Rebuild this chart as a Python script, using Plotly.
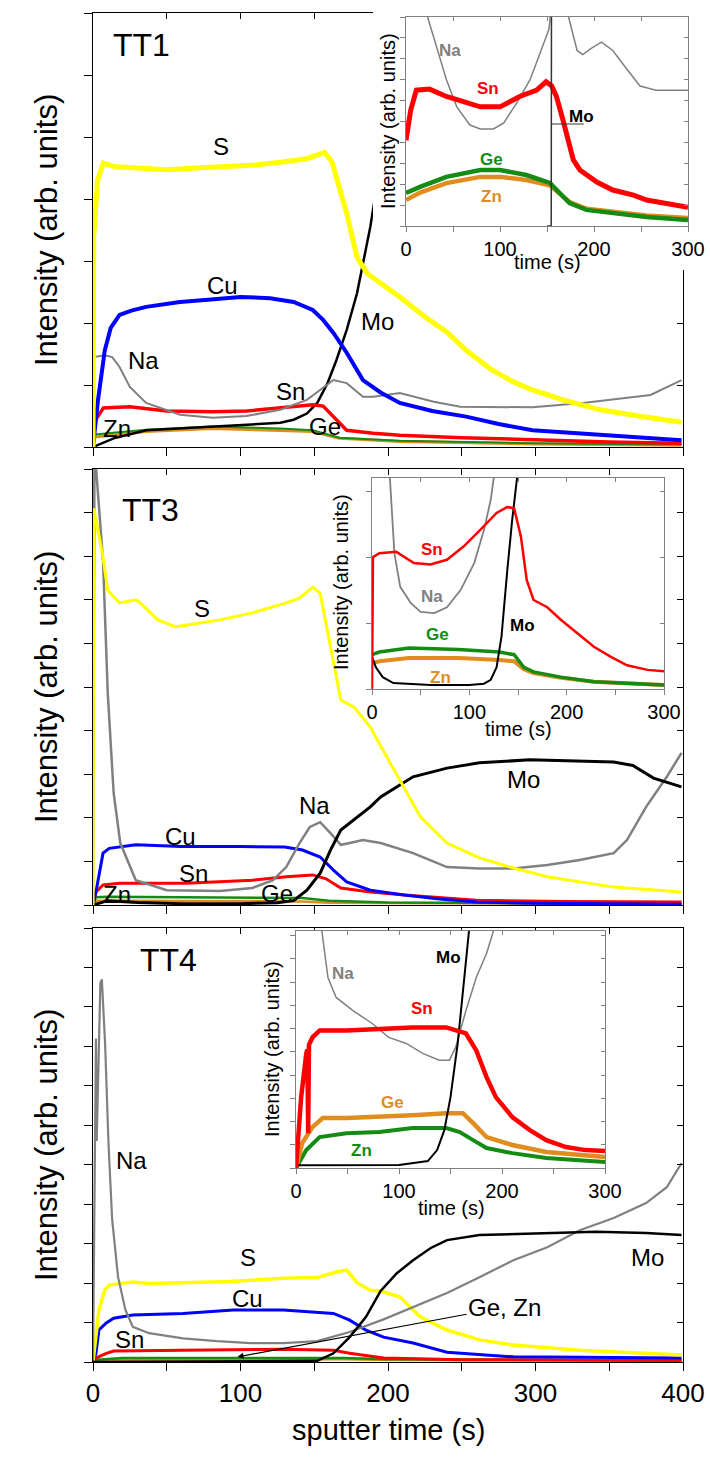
import plotly.graph_objects as go

# ---------------- DATA ----------------
# TT1 main panel (time s, intensity arb.)
t1_S_t = [0, 0.5, 3, 7, 15, 30, 50, 70, 90, 110, 130, 145, 157, 162, 172, 179, 186, 195, 208, 225, 240, 253, 270, 285, 298, 320, 344, 370, 399]
t1_S = [0, 3.4, 4.3, 4.58, 4.52, 4.5, 4.47, 4.5, 4.52, 4.55, 4.6, 4.65, 4.75, 4.6, 3.77, 3.06, 2.8, 2.65, 2.42, 2.1, 1.85, 1.56, 1.25, 1.05, 0.92, 0.75, 0.60, 0.5, 0.40]
t1_Cu_t = [0, 3.4, 8, 12, 18, 26, 36, 59, 80, 100, 120, 136, 149, 156, 163, 172, 183, 195, 208, 230, 253, 275, 298, 344, 399]
t1_Cu = [0, 0.76, 1.56, 1.92, 2.13, 2.2, 2.26, 2.34, 2.38, 2.42, 2.4, 2.34, 2.21, 2.05, 1.84, 1.52, 1.08, 0.88, 0.71, 0.58, 0.49, 0.37, 0.27, 0.19, 0.11]
t1_Na_t = [0, 0.5, 8, 13, 18, 25, 36, 59, 81, 104, 127, 145, 163, 172, 183, 190, 208, 231, 249, 298, 332, 378, 399]
t1_Na = [0, 1.45, 1.48, 1.45, 1.29, 0.97, 0.71, 0.52, 0.47, 0.5, 0.6, 0.76, 1.08, 1.03, 0.81, 0.81, 0.87, 0.73, 0.65, 0.64, 0.71, 0.84, 1.08]
t1_Sn_t = [0, 0.5, 7, 25, 50, 81, 104, 127, 149, 156, 165, 172, 190, 208, 250, 298, 350, 399]
t1_Sn = [0, 0.39, 0.63, 0.65, 0.58, 0.57, 0.58, 0.63, 0.68, 0.66, 0.44, 0.27, 0.22, 0.19, 0.15, 0.11, 0.08, 0.06]
t1_GeZn_t = [0, 1, 10, 36, 81, 127, 149, 167, 208, 300, 399]
t1_Zn = [0, 0.16, 0.18, 0.25, 0.3, 0.27, 0.25, 0.14, 0.09, 0.05, 0.03]
t1_Ge = [0, 0.2, 0.22, 0.28, 0.33, 0.3, 0.27, 0.15, 0.1, 0.06, 0.04]
t1_Mo_t = [0, 14, 36, 81, 127, 136, 145, 152, 159, 165, 172, 179, 183, 188, 195, 205, 215]
t1_Mo = [0, 0.14, 0.27, 0.33, 0.39, 0.44, 0.54, 0.71, 1.03, 1.4, 1.89, 2.48, 2.96, 3.55, 4.6, 6.2, 8.0]

# TT1 inset
i1_Na_t = [0, 15, 23, 32, 43, 54, 68, 79, 93, 104, 118, 132, 143, 152, 156, 164, 173, 182, 188, 197, 208, 220, 235, 249, 266, 300]
i1_Na = [30, 14, 10, 8.6, 7.0, 5.7, 4.83, 4.64, 4.64, 4.93, 5.9, 7.0, 8.3, 9.4, 11, 13, 10, 8.4, 8.2, 8.5, 8.8, 8.4, 7.5, 6.7, 6.5, 6.5]
i1_Sn_t = [0, 5, 11, 25, 43, 79, 100, 121, 139, 149, 155, 160, 167, 173, 178, 185, 203, 220, 242, 256, 277, 300]
i1_Sn = [4.1, 5.55, 6.5, 6.55, 6.2, 5.7, 5.7, 6.2, 6.5, 6.9, 6.7, 6.2, 5.07, 3.97, 3.16, 2.68, 2.1, 1.72, 1.48, 1.24, 1.05, 0.9]
i1_GeZn_t = [0, 15, 43, 79, 100, 128, 153, 164, 174, 192, 220, 256, 300]
i1_Ge = [1.58, 1.87, 2.35, 2.68, 2.68, 2.44, 2.06, 1.58, 1.1, 0.77, 0.62, 0.43, 0.29]
i1_Zn = [1.24, 1.6, 2.05, 2.35, 2.35, 2.2, 1.95, 1.55, 1.15, 0.82, 0.68, 0.5, 0.38]
i1_Mo_t = [150, 154.5, 155.5]
i1_Mo = [0, 0, 40]

# TT3 main panel
t3_S_t = [0, 0.5, 6.8, 10, 18, 29, 33, 44, 56, 86, 108, 131, 140, 149, 154, 161, 168, 177, 188, 195, 200, 208, 222, 240, 262, 285, 308, 353, 399]
t3_S = [0, 9.1, 7.98, 7.22, 6.93, 7.0, 6.9, 6.54, 6.38, 6.54, 6.7, 6.93, 7.04, 7.29, 7.15, 5.92, 4.7, 4.54, 4.08, 3.65, 3.35, 2.85, 2.02, 1.42, 1.08, 0.85, 0.65, 0.41, 0.3]
t3_Cu_t = [0, 2, 6.8, 11, 29, 60, 100, 130, 142, 154, 163, 172, 188, 211, 235, 260, 300, 399]
t3_Cu = [0, 0.3, 1.19, 1.3, 1.38, 1.34, 1.34, 1.33, 1.26, 1.1, 0.8, 0.53, 0.34, 0.23, 0.14, 0.07, 0.04, 0.02]
t3_Sn_t = [0, 2, 6.8, 18, 63, 108, 131, 149, 158, 168, 188, 211, 260, 320, 399]
t3_Sn = [0, 0.3, 0.46, 0.5, 0.5, 0.57, 0.65, 0.69, 0.6, 0.39, 0.3, 0.23, 0.11, 0.08, 0.07]
t3_Na_t = [0, 1, 3, 6.8, 10, 14, 18.5, 29, 50, 86, 108, 122, 131, 140, 147, 154, 161, 168, 174, 183, 195, 217, 240, 262, 285, 308, 330, 353, 362, 375, 389, 399]
t3_Na = [0, 10.5, 9.6, 7.9, 4.86, 2.57, 1.42, 0.57, 0.34, 0.32, 0.39, 0.57, 0.87, 1.42, 1.79, 1.9, 1.65, 1.38, 1.42, 1.49, 1.42, 1.19, 0.87, 0.84, 0.84, 0.92, 1.03, 1.19, 1.49, 2.25, 2.94, 3.49]
t3_Mo_t = [0, 10, 30, 60, 100, 125, 136, 145, 154, 161, 168, 174, 188, 195, 217, 240, 262, 296, 330, 353, 366, 380, 399]
t3_Mo = [0, 0.1, 0.06, 0.03, 0.03, 0.05, 0.1, 0.34, 0.73, 1.26, 1.72, 1.88, 2.25, 2.48, 2.94, 3.14, 3.26, 3.33, 3.3, 3.28, 3.2, 2.91, 2.71]
t3_GeZn_t = [0, 2, 10, 60, 120, 142, 160, 200, 300, 399]
t3_Ge = [0, 0.18, 0.19, 0.18, 0.18, 0.16, 0.1, 0.06, 0.04, 0.03]
t3_Zn = [0, 0.1, 0.1, 0.09, 0.09, 0.08, 0.05, 0.04, 0.03, 0.02]

# TT3 inset
i3_Sn_t = [0, 1, 7.5, 25, 43, 60, 77, 94, 111, 128, 139, 146, 153, 159, 166, 180, 194, 211, 228, 245, 262, 283, 300]
i3_Sn = [0, 2.0, 2.06, 2.08, 1.91, 1.89, 1.96, 2.16, 2.41, 2.67, 2.76, 2.74, 2.31, 1.65, 1.35, 1.24, 1.05, 0.85, 0.64, 0.49, 0.36, 0.29, 0.27]
i3_Na_t = [0, 15, 18, 23, 29, 40, 50, 64, 77, 91, 105, 115, 122, 126, 132]
i3_Na = [30, 6, 3.3, 2.06, 1.55, 1.3, 1.17, 1.15, 1.24, 1.5, 1.91, 2.41, 2.87, 3.3, 6]
i3_Mo_t = [0, 4, 11, 22, 60, 100, 115, 122, 128, 133, 139, 144, 149, 153]
i3_Mo = [0.49, 0.33, 0.18, 0.09, 0.06, 0.06, 0.08, 0.14, 0.33, 0.79, 1.8, 2.56, 3.2, 5]
i3_GeZn_t = [0, 7.5, 38, 89, 131, 146, 156, 166, 194, 228, 300]
i3_Ge = [0.52, 0.56, 0.62, 0.6, 0.56, 0.52, 0.33, 0.26, 0.18, 0.11, 0.06]
i3_Zn = [0.39, 0.42, 0.47, 0.47, 0.44, 0.42, 0.3, 0.24, 0.17, 0.11, 0.06]

# TT4 main panel
t4_Na_t = [0, 1, 2, 2.5, 3.5, 5, 6, 7, 8.2, 10.5, 13, 17, 22, 27, 38, 61, 84, 107, 129, 152, 174, 197, 217, 240, 262, 285, 308, 330, 353, 375, 389, 399]
t4_Na = [0, 5.0, 8.2, 5.6, 7.5, 9.6, 9.7, 9.0, 8.07, 5.54, 3.6, 2.15, 1.32, 0.89, 0.73, 0.6, 0.53, 0.48, 0.48, 0.53, 0.76, 1.08, 1.39, 1.75, 2.15, 2.58, 2.91, 3.34, 3.65, 4.03, 4.43, 5.04]
t4_S_t = [0, 2, 4, 8, 11, 27, 38, 61, 93, 129, 152, 165, 172, 179, 188, 195, 208, 222, 240, 262, 285, 330, 399]
t4_S = [0, 0.63, 1.32, 1.82, 1.95, 2.03, 1.99, 2.01, 2.04, 2.12, 2.14, 2.28, 2.33, 2.01, 1.82, 1.8, 1.65, 1.14, 0.81, 0.56, 0.43, 0.3, 0.18]
t4_Cu_t = [0, 2, 4, 9, 14, 27, 61, 95, 129, 163, 174, 185, 197, 209, 217, 240, 285, 399]
t4_Cu = [0, 0.22, 0.81, 0.99, 1.11, 1.19, 1.23, 1.32, 1.32, 1.23, 1.06, 0.81, 0.63, 0.53, 0.48, 0.25, 0.13, 0.1]
t4_Sn_t = [0, 2, 9, 14, 61, 129, 163, 174, 197, 250, 399]
t4_Sn = [0, 0.1, 0.22, 0.28, 0.3, 0.32, 0.3, 0.22, 0.1, 0.06, 0.04]
t4_Mo_t = [0, 100, 152, 163, 174, 185, 195, 206, 217, 229, 240, 262, 308, 341, 375, 399]
t4_Mo = [0, 0.01, 0.03, 0.22, 0.63, 1.14, 1.8, 2.25, 2.58, 2.89, 3.09, 3.22, 3.27, 3.3, 3.27, 3.22]
t4_GeZn_t = [0, 3, 20, 100, 170, 200, 300, 399]
t4_Ge = [0, 0.06, 0.1, 0.11, 0.1, 0.07, 0.05, 0.04]
t4_Zn = [0, 0.04, 0.06, 0.07, 0.07, 0.05, 0.04, 0.03]

# TT4 inset
i4_Sn_t = [0, 5, 10, 11, 11.8, 12.6, 16, 23, 49, 81, 113, 146, 165, 175, 185, 194, 210, 227, 243, 262, 281, 300]
i4_Sn = [0, 3.05, 4.93, 5.1, 1.5, 5.3, 5.62, 5.92, 5.92, 6.0, 6.05, 6.05, 5.79, 5.06, 3.91, 3.05, 2.19, 1.63, 1.2, 0.9, 0.77, 0.73]
i4_Na_t = [0, 20, 26, 31, 39, 55, 74, 90, 107, 123, 139, 149, 155, 165, 175, 185, 191, 196]
i4_Na = [30, 12, 9.9, 8.2, 7.34, 6.78, 6.22, 5.62, 5.36, 4.93, 4.64, 4.64, 5.19, 6.78, 8.2, 9.23, 10.1, 11]
i4_Mo_t = [0, 50, 100, 128, 137, 144, 150, 157, 162, 167, 172]
i4_Mo = [0.12, 0.13, 0.13, 0.3, 0.77, 1.63, 3.05, 5.36, 7.5, 9.9, 12]
i4_Ge_t = [0, 6, 16, 26, 49, 81, 113, 146, 162, 172, 185, 210, 243, 300]
i4_Ge = [0, 1.07, 1.76, 2.15, 2.15, 2.19, 2.27, 2.36, 2.36, 1.93, 1.33, 0.99, 0.69, 0.47]
i4_Zn_t = [0, 10, 23, 49, 81, 113, 146, 159, 172, 185, 210, 243, 300]
i4_Zn = [0, 0.77, 1.33, 1.5, 1.55, 1.72, 1.72, 1.55, 1.2, 0.86, 0.64, 0.43, 0.26]

main_xticks = [0, 50, 100, 150, 200, 250, 300, 350, 400]
main_xtext = ["0", "", "100", "", "200", "", "300", "", "400"]
inset_xticks = [0, 50, 100, 150, 200, 250, 300]
inset_xtext = ["0", "", "100", "", "200", "", "300"]

# ---------------- STYLE ----------------
W, H = 710, 1459
YELLOW, BLUE, RED, GRAY, BLACK = "#FFFF00", "#0000FF", "#FF0000", "#808080", "#000000"
GREEN, ORANGE = "#148C14", "#E08C1E"
FONT = "Liberation Sans, Arial, sans-serif"

def px(x):
    return x / W

def py(y):
    return 1 - y / H

def ref(a, n):
    return a if n == 1 else f"{a}{n}"

def name(a, n):
    return f"{a}axis" if n == 1 else f"{a}axis{n}"

fig = go.Figure()
layout = {}

def add_frame(nx, ny, ntop, nright, xdom, ydom, xr, yr, xt, xtxt, ydt, show_xlab,
              lc, tlen, tick_font, tin):
    base = dict(showgrid=False, zeroline=False, showline=True, linecolor=lc,
                linewidth=1.3, tickcolor=lc, tickwidth=1.3, automargin=False)
    layout[name("x", nx)] = dict(base, domain=xdom, range=xr, anchor=ref("y", ny),
                                 tickmode="array", tickvals=xt, ticktext=xtxt,
                                 ticks="outside", ticklen=tlen,
                                 showticklabels=show_xlab,
                                 tickfont=dict(size=tick_font, color="black", family=FONT))
    layout[name("y", ny)] = dict(base, domain=ydom, range=yr, anchor=ref("x", nx),
                                 dtick=ydt, tick0=0, ticks="outside", ticklen=tlen,
                                 showticklabels=False)
    layout[name("x", ntop)] = dict(base, range=xr, overlaying=ref("x", nx),
                                   anchor=ref("y", ny), side="top",
                                   tickmode="array", tickvals=xt, ticks="inside",
                                   ticklen=tin, showticklabels=False)
    layout[name("y", nright)] = dict(base, range=yr, overlaying=ref("y", ny),
                                     anchor=ref("x", nx), side="right",
                                     dtick=ydt, tick0=0, ticks="inside",
                                     ticklen=tin, showticklabels=False)
    # empty trace so the mirrored (top/right) axes get a subplot and are drawn
    fig.add_trace(go.Scatter(x=[], y=[], xaxis=ref("x", ntop), yaxis=ref("y", nright),
                             showlegend=False, hoverinfo="skip"))

def line(nx, ny, t, v, color, width):
    fig.add_trace(go.Scatter(x=t, y=v, mode="lines", xaxis=ref("x", nx), yaxis=ref("y", ny),
                             line=dict(color=color, width=width, shape="linear"),
                             hoverinfo="skip", showlegend=False))

annotations = []

def label(nx, ny, t, v, text, color="black", size=24, bold=False):
    txt = f"<b>{text}</b>" if bold else text
    annotations.append(dict(x=t, y=v, xref=ref("x", nx), yref=ref("y", ny), text=txt,
                            showarrow=False, font=dict(size=size, color=color, family=FONT),
                            xanchor="center", yanchor="middle"))

def paper_text(x, y, text, size, angle=0):
    annotations.append(dict(x=px(x), y=py(y), xref="paper", yref="paper", text=text,
                            showarrow=False, textangle=angle,
                            font=dict(size=size, color="black", family=FONT),
                            xanchor="center", yanchor="middle"))

MAIN_X = [px(93), px(683)]

# ---------------- PANEL 1 : TT1 ----------------
add_frame(1, 1, 2, 2, MAIN_X, [py(447), py(13)], [0, 400], [0, 7], main_xticks, main_xtext, 1,
          False, "black", 8, 26, 6)
for t, v, c, w in [(t1_GeZn_t, t1_Zn, ORANGE, 3), (t1_GeZn_t, t1_Ge, GREEN, 2),
                   (t1_Mo_t, t1_Mo, BLACK, 2.5), (t1_Sn_t, t1_Sn, RED, 3.5),
                   (t1_Na_t, t1_Na, GRAY, 2), (t1_Cu_t, t1_Cu, BLUE, 4),
                   (t1_S_t, t1_S, YELLOW, 5)]:
    line(1, 1, t, v, c, w)
label(1, 1, 33, 6.48, "TT1", size=32)
label(1, 1, 87, 4.84, "S")
label(1, 1, 88, 2.61, "Cu")
label(1, 1, 34, 1.4, "Na")
label(1, 1, 134, 0.89, "Sn")
label(1, 1, 16, 0.3, "Zn")
label(1, 1, 157, 0.33, "Ge")
label(1, 1, 193, 2.02, "Mo")

# cover box (white area behind inset 1)
layout[name("x", 3)] = dict(domain=[px(373), 1.0], range=[0, 1], visible=False, anchor="y3",
                            automargin=False)
layout[name("y", 3)] = dict(domain=[py(270), 1.0], range=[0, 1], visible=False, anchor="x3",
                            automargin=False)
fig.add_trace(go.Scatter(x=[], y=[], xaxis="x3", yaxis="y3", showlegend=False, hoverinfo="skip"))

# inset 1
add_frame(4, 4, 5, 5, [px(406), px(688)], [py(226), py(17)], [0, 300], [0, 10], inset_xticks,
          inset_xtext, 1, True, GRAY, 5, 20, 4)
for t, v, c, w in [(i1_GeZn_t, i1_Zn, ORANGE, 4.5), (i1_GeZn_t, i1_Ge, GREEN, 4.5),
                   (i1_Na_t, i1_Na, GRAY, 1.5), (i1_Sn_t, i1_Sn, RED, 5),
                   (i1_Mo_t, i1_Mo, "#333333", 1.5)]:
    line(4, 4, t, v, c, w)
label(4, 4, 47, 8.4, "Na", GRAY, 17, True)
label(4, 4, 87, 6.6, "Sn", RED, 17, True)
label(4, 4, 187, 5.25, "Mo", BLACK, 17, True)
label(4, 4, 91, 3.2, "Ge", GREEN, 17, True)
label(4, 4, 91, 1.4, "Zn", ORANGE, 17, True)
paper_text(388, 121, "Intensity (arb. units)", 20, -90)
paper_text(547, 262, "time (s)", 20)

# ---------------- PANEL 2 : TT3 ----------------
add_frame(6, 6, 7, 7, MAIN_X, [py(905), py(469)], [0, 400], [0, 10], main_xticks, main_xtext, 1,
          False, "black", 8, 26, 6)
for t, v, c, w in [(t3_GeZn_t, t3_Zn, ORANGE, 2.5), (t3_GeZn_t, t3_Ge, GREEN, 2.5),
                   (t3_Sn_t, t3_Sn, RED, 3), (t3_Cu_t, t3_Cu, BLUE, 3),
                   (t3_Na_t, t3_Na, GRAY, 2.5), (t3_Mo_t, t3_Mo, BLACK, 3),
                   (t3_S_t, t3_S, YELLOW, 3)]:
    line(6, 6, t, v, c, w)
label(6, 6, 39, 9.06, "TT3", size=32)
label(6, 6, 74, 6.8, "S")
label(6, 6, 59, 1.56, "Cu")
label(6, 6, 68, 0.73, "Sn")
label(6, 6, 16, 0.23, "Zn")
label(6, 6, 125, 0.27, "Ge")
label(6, 6, 150, 2.29, "Na")
label(6, 6, 292, 2.87, "Mo")

# inset 2
add_frame(8, 8, 9, 9, [px(372), px(664)], [py(689), py(478)], [0, 300], [0, 3.2], inset_xticks,
          inset_xtext, 1, True, GRAY, 5, 20, 4)
for t, v, c, w in [(i3_GeZn_t, i3_Zn, ORANGE, 4), (i3_GeZn_t, i3_Ge, GREEN, 3.5),
                   (i3_Mo_t, i3_Mo, BLACK, 2), (i3_Na_t, i3_Na, GRAY, 1.8),
                   (i3_Sn_t, i3_Sn, RED, 2.5)]:
    line(8, 8, t, v, c, w)
label(8, 8, 62, 2.11, "Sn", RED, 17, True)
label(8, 8, 62, 1.4, "Na", GRAY, 17, True)
label(8, 8, 67, 0.82, "Ge", GREEN, 17, True)
label(8, 8, 70, 0.18, "Zn", ORANGE, 17, True)
label(8, 8, 155, 0.97, "Mo", BLACK, 17, True)
paper_text(341, 582, "Intensity (arb. units)", 20, -90)
paper_text(518, 729, "time (s)", 20)

# ---------------- PANEL 3 : TT4 ----------------
add_frame(10, 10, 11, 11, MAIN_X, [py(1362), py(928)], [0, 400], [0, 11], main_xticks, main_xtext,
          1, True, "black", 8, 26, 6)
for t, v, c, w in [(t4_GeZn_t, t4_Zn, ORANGE, 2.5), (t4_GeZn_t, t4_Ge, GREEN, 2.5),
                   (t4_Sn_t, t4_Sn, RED, 3), (t4_Cu_t, t4_Cu, BLUE, 3),
                   (t4_S_t, t4_S, YELLOW, 3.5), (t4_Na_t, t4_Na, GRAY, 2.2),
                   (t4_Mo_t, t4_Mo, BLACK, 2.5)]:
    line(10, 10, t, v, c, w)
label(10, 10, 51, 10.2, "TT4", size=32)
label(10, 10, 26, 5.11, "Na")
label(10, 10, 105, 2.66, "S")
label(10, 10, 105, 1.62, "Cu")
label(10, 10, 25, 0.56, "Sn")
label(10, 10, 376, 2.66, "Mo")
annotations.append(dict(x=98, y=0.13, xref="x10", yref="y10", ax=279, ay=1.39,
                        axref="x10", ayref="y10", text="Ge, Zn", showarrow=True,
                        arrowhead=2, arrowsize=1, arrowwidth=1.2, arrowcolor="black",
                        font=dict(size=24, color="black", family=FONT)))

# inset 3
add_frame(12, 12, 13, 13, [px(296), px(605)], [py(1168), py(931)], [0, 300], [0, 10.2],
          inset_xticks, inset_xtext, 1, True, GRAY, 5, 20, 4)
for t, v, c, w in [(i4_Zn_t, i4_Zn, GREEN, 4), (i4_Ge_t, i4_Ge, ORANGE, 4.5),
                   (i4_Na_t, i4_Na, GRAY, 1.5), (i4_Mo_t, i4_Mo, BLACK, 2),
                   (i4_Sn_t, i4_Sn, RED, 4.5)]:
    line(12, 12, t, v, c, w)
label(12, 12, 46, 8.37, "Na", GRAY, 17, True)
label(12, 12, 122, 6.87, "Sn", RED, 17, True)
label(12, 12, 148, 9.06, "Mo", BLACK, 17, True)
label(12, 12, 94, 2.83, "Ge", ORANGE, 17, True)
label(12, 12, 64, 0.77, "Zn", GREEN, 17, True)
paper_text(272, 1049, "Intensity (arb. units)", 20, -90)
paper_text(451, 1208, "time (s)", 20)

# main axis titles
for yc in [230, 687, 1145]:
    paper_text(46, yc, "Intensity (arb. units)", 31, -90)
paper_text(388, 1430, "sputter time (s)", 29)

shapes = [dict(type="line", xref="x4", yref="y4", x0=155, x1=189, y0=4.88, y1=4.88,
               line=dict(color="#333333", width=1))]

fig.update_layout(width=W, height=H, margin=dict(l=0, r=0, t=0, b=0, autoexpand=False),
                  paper_bgcolor="white", plot_bgcolor="white", showlegend=False,
                  font=dict(family=FONT, color="black"),
                  annotations=annotations, shapes=shapes, **layout)

fig.write_html("out.html")
